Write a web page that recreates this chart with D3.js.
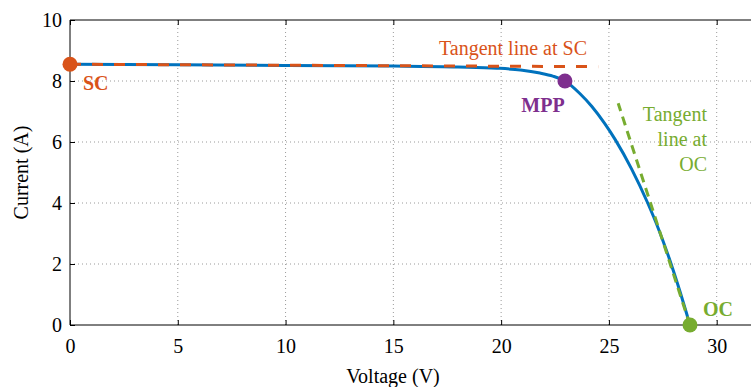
<!DOCTYPE html>
<html>
<head>
<meta charset="utf-8">
<script src="https://cdn.jsdelivr.net/npm/d3@7"></script>
<style>
  body { margin: 0; background: #fff; }
  svg { display: block; }
  svg text { font-family: "Times New Roman", Times, "Liberation Serif", "DejaVu Serif", "Noto Serif", serif; }
</style>
</head>
<body>
<svg id="chart" width="751" height="387"></svg>
<script>
// I-V curve
const voltage = [0, 5, 10, 15, 18, 19.8, 20.9, 21.8, 22.4, 22.96, 23.65, 24.2, 24.8, 25.3, 26.05, 26.8, 27.3, 27.8, 28.3, 28.76];
const current = [8.55, 8.53, 8.51, 8.49, 8.46, 8.42, 8.36, 8.26, 8.16, 8.0, 7.59, 7.17, 6.61, 6.07, 5.12, 4.0, 3.15, 2.18, 1.09, 0];

const tangentSC = [[0, 8.55], [24.5, 8.47]];
const tangentOC = [[28.76, 0], [25.43, 7.27]];

const points = [
  { name: "SC", v: 0, i: 8.55, color: "#D95319" },
  { name: "MPP", v: 22.96, i: 8.0, color: "#7E2F8E" },
  { name: "OC", v: 28.76, i: 0, color: "#77AC30" }
];

const xTicks = [0, 5, 10, 15, 20, 25, 30];
const yTicks = [0, 2, 4, 6, 8, 10];

const svg = d3.select("#chart");
const padLeft = 70, padTop = 20, padBottom = 325;

const x = d3.scaleLinear().domain([0, 30]).range([padLeft, 716.7]);
const y = d3.scaleLinear().domain([0, 10]).range([padBottom, padTop]);
const xEnd = 32;

// grid
const grid = svg.append("g").attr("stroke", "#9a9a9a").attr("stroke-width", 1).attr("stroke-dasharray", "1,3");
xTicks.filter(d => d > 0).forEach(d => {
  grid.append("line").attr("x1", x(d)).attr("x2", x(d)).attr("y1", padTop).attr("y2", padBottom);
});
yTicks.filter(d => d > 0 && d < 10).forEach(d => {
  grid.append("line").attr("x1", padLeft).attr("x2", x(xEnd)).attr("y1", y(d)).attr("y2", y(d));
});

// axes
const xAxis = d3.axisBottom(x).tickValues(xTicks).tickSizeInner(-5).tickSizeOuter(0).tickPadding(10);
const gx = svg.append("g").attr("transform", `translate(0,${padBottom})`).call(xAxis);
const gxTop = svg.append("g").attr("transform", `translate(0,${padTop})`)
  .call(d3.axisTop(x).tickValues(xTicks).tickSizeInner(-5).tickSizeOuter(0).tickFormat(""));
const yAxis = d3.axisLeft(y).tickValues(yTicks).tickSizeInner(-5).tickSizeOuter(0).tickPadding(8);
const gy = svg.append("g").attr("transform", `translate(${padLeft},0)`).call(yAxis);

[gx, gxTop, gy].forEach(g => {
  g.attr("font-family", null);
  g.select(".domain").remove();
  g.selectAll("line").attr("stroke", "#000");
  g.selectAll("text").attr("font-size", 20).attr("fill", "#000");
});
gx.selectAll("text").attr("dy", "0.9em");
gy.selectAll("text").attr("dy", "0.34em");

svg.append("line").attr("x1", padLeft).attr("x2", x(xEnd)).attr("y1", padBottom).attr("y2", padBottom).attr("stroke", "#000");
svg.append("line").attr("x1", padLeft).attr("x2", x(xEnd)).attr("y1", padTop).attr("y2", padTop).attr("stroke", "#000");
svg.append("line").attr("x1", padLeft).attr("x2", padLeft).attr("y1", padTop).attr("y2", padBottom).attr("stroke", "#000");

// axis titles
svg.append("text").attr("x", 393).attr("y", 383).attr("text-anchor", "middle")
  .attr("font-size", 20).text("Voltage (V)");
svg.append("text").attr("transform", `translate(28,${(padTop + padBottom) / 2}) rotate(-90)`)
  .attr("text-anchor", "middle").attr("font-size", 20).text("Current (A)");

// curves
const line = d3.line().x(d => x(d[0])).y(d => y(d[1])).curve(d3.curveMonotoneX);
svg.append("path").datum(voltage.map((v, k) => [v, current[k]]))
  .attr("d", line).attr("fill", "none").attr("stroke", "#0072BD").attr("stroke-width", 3);

const straight = d3.line().x(d => x(d[0])).y(d => y(d[1]));
svg.append("path").datum(tangentSC).attr("d", straight).attr("fill", "none")
  .attr("stroke", "#D95319").attr("stroke-width", 3).attr("stroke-dasharray", "11,11");
svg.append("path").datum(tangentOC).attr("d", straight).attr("fill", "none")
  .attr("stroke", "#77AC30").attr("stroke-width", 3).attr("stroke-dasharray", "9,6");

// markers
svg.selectAll("circle.pt").data(points).enter().append("circle")
  .attr("class", "pt")
  .attr("cx", d => x(d.v)).attr("cy", d => y(d.i)).attr("r", 7.5)
  .attr("fill", d => d.color);

// labels
svg.append("text").attr("x", 83).attr("y", 90).attr("font-size", 20).attr("font-weight", "bold")
  .attr("fill", "#D95319").text("SC");
svg.append("text").attr("x", 543).attr("y", 112).attr("text-anchor", "middle").attr("font-size", 20)
  .attr("font-weight", "bold").attr("fill", "#7E2F8E").text("MPP");
svg.append("text").attr("x", 703).attr("y", 316).attr("font-size", 20).attr("font-weight", "bold")
  .attr("fill", "#77AC30").text("OC");

svg.append("text").attr("x", 587).attr("y", 55).attr("text-anchor", "end").attr("font-size", 20)
  .attr("fill", "#D95319").text("Tangent line at SC");
const ocLabel = svg.append("text").attr("text-anchor", "end").attr("font-size", 20).attr("fill", "#77AC30");
["Tangent", "line at", "OC"].forEach((t, k) => {
  ocLabel.append("tspan").attr("x", 707).attr("y", 121 + k * 25).text(t);
});
</script>
</body>
</html>
